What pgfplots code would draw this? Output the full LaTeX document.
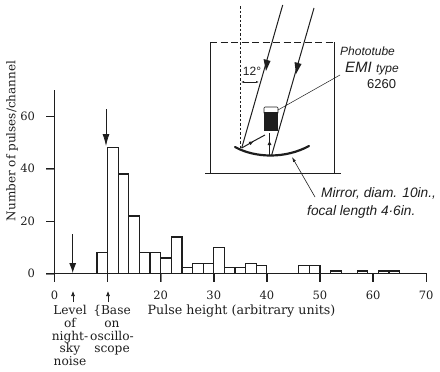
\documentclass[border=0pt]{standalone}
\usepackage{fontspec}
\setmainfont{DejaVu Serif}
\newfontfamily\hand{Liberation Sans}
\usepackage{pgfplots}
\pgfplotsset{compat=1.18}
\usetikzlibrary{arrows.meta}
\definecolor{ink}{HTML}{1E1E1E}
\begin{document}
\begin{tikzpicture}[color=ink]
\begin{axis}[
  at={(54.5pt,-273.7pt)},anchor=south west,
  scale only axis,width=371.7pt,height=183.7pt,
  xmin=0,xmax=70,ymin=0,ymax=70,
  axis x line*=bottom,axis y line*=left,
  axis line style={line width=1.2pt,color=ink,-},
  xtick={0,10,20,30,40,50,60,70},
  xticklabels={0,,20,30,40,50,60,70},
  ytick={0,20,40,60},
  tick align=outside,
  major tick length=8pt,
  xticklabel style={font=\fontsize{11.5}{12}\selectfont,yshift=-6pt},
  yticklabel style={font=\fontsize{11.5}{12}\selectfont,xshift=-8pt},
  /pgf/number format/assume math mode=true,
  clip=false,
]
\addplot[ybar interval,draw=ink,fill=white,line width=1.2pt] coordinates {
(0,0)(8,8)(10,48)(12,38)(14,22)(16,8)(18,8)(20,6)(22,14)(24,2.5)(26,4)(28,4)
(30,10)(32,2.5)(34,2.5)(36,4)(38,3)(40,0)(46,3)(48,3)(50,0)(52,1)(54,0)(57,1)(59,0)
(61,1)(63,1)(65,0)(70,0)};
\end{axis}
\begin{scope}[x=1pt,y=-1pt]
\path (0,0) rectangle (440,372);
% tick strokes
\foreach \px in {54.5,107.6,160.7,213.8,266.9,320,373.1,426.2}{
  \fill[ink] (\px-0.7,273) rectangle (\px+0.7,282);
}
\foreach \py in {273.7,221.2,168.7,116.2}{
  \fill[ink] (45.5,\py-0.7) rectangle (54.5,\py+0.7);
}
% y title
\node[rotate=90,font=\fontsize{12}{12}\selectfont] at (12,141) {Number of pulses/channel};
% big arrows
\draw[line width=0.8pt,-{Latex[length=10pt,width=7pt]}] (72.7,234) -- (72.7,273);
\draw[line width=0.8pt,-{Latex[length=12pt,width=7pt]}] (106,109) -- (106,146);
% small arrows
\draw[line width=0.7pt,-{Latex[length=5pt,width=4pt]}] (73,302) -- (73,291);
\draw[line width=0.7pt,-{Latex[length=5pt,width=4pt]}] (108,302) -- (108,291);
% labels
\node[anchor=north,align=center,font=\fontsize{12.2}{12.8}\selectfont,inner sep=0] at (70,305) {Level\\of\\night-\\sky\\noise};
\node[anchor=north,align=center,font=\fontsize{12.2}{12.8}\selectfont,inner sep=0] at (112,305) {\{Base\\on\\oscillo-\\scope};
\node[font=\fontsize{12.7}{12.7}\selectfont,inner sep=0] at (241.5,311) {Pulse height (arbitrary units)};
% inset
\draw[line width=1pt] (210,42) -- (210,173);
\draw[line width=1pt] (334,42) -- (334,173);
\draw[line width=1pt] (205,173) -- (341,173);
\draw[line width=1pt,dash pattern=on 7pt off 3.5pt] (210,42) -- (334,42);
\draw[line width=0.9pt,dash pattern=on 2.5pt off 2pt] (240.7,6) -- (240.7,148);
\draw[line width=1pt] (282.7,5) -- (241.7,148);
\draw[line width=1pt] (314,8) -- (271.7,155);
\fill (266,71) -- (263.5,59) -- (270.5,61) -- cycle;
\fill (296,74) -- (294.5,62) -- (301.5,64) -- cycle;
\draw[line width=2.2pt,line cap=round] (235,147) .. controls (255,158) and (285,159) .. (309,146);
\draw[line width=0.7pt,rounded corners=1pt,fill=white] (264,107) rectangle (278,114);
\fill (264,112) rectangle (278,131);
\draw[line width=1pt,-{Latex[length=5pt,width=4pt]}] (241.7,148) -- (254,141);
\draw[line width=1pt] (252,142) -- (265,135);
\draw[line width=1pt,-{Latex[length=5pt,width=4pt]}] (269.5,155) -- (269.5,140);
\draw[line width=1pt] (269.5,142) -- (269.5,133);
\draw[line width=0.5pt] (278,110) -- (340,75);
\draw[line width=0.6pt,-{Latex[length=5pt,width=3pt]}] (315,197) -- (292,157);
\draw[line width=0.5pt,{Latex[length=3pt,width=2pt]}-{Latex[length=3pt,width=2pt]}] (241,82) -- (259,82);
\node[font=\hand\fontsize{12}{12}\selectfont,inner sep=0] at (252,71) {12°};
\node[anchor=west,inner sep=0,font=\hand\itshape\fontsize{12}{12}\selectfont] at (340,51) {Phototube};
\node[anchor=west,inner sep=0,font=\hand\itshape\fontsize{15}{15}\selectfont] at (345,69) {EMI \fontsize{12}{12}\selectfont type};
\node[anchor=west,inner sep=0,font=\hand\fontsize{13}{13}\selectfont] at (367,84) {6260};
\node[anchor=west,inner sep=0,font=\hand\itshape\fontsize{13.7}{14}\selectfont] at (321,193) {Mirror, diam. 10in.,};
\node[anchor=west,inner sep=0,font=\hand\itshape\fontsize{13.7}{14}\selectfont] at (307,212) {focal length 4·6in.};
\end{scope}
\end{tikzpicture}
\end{document}
